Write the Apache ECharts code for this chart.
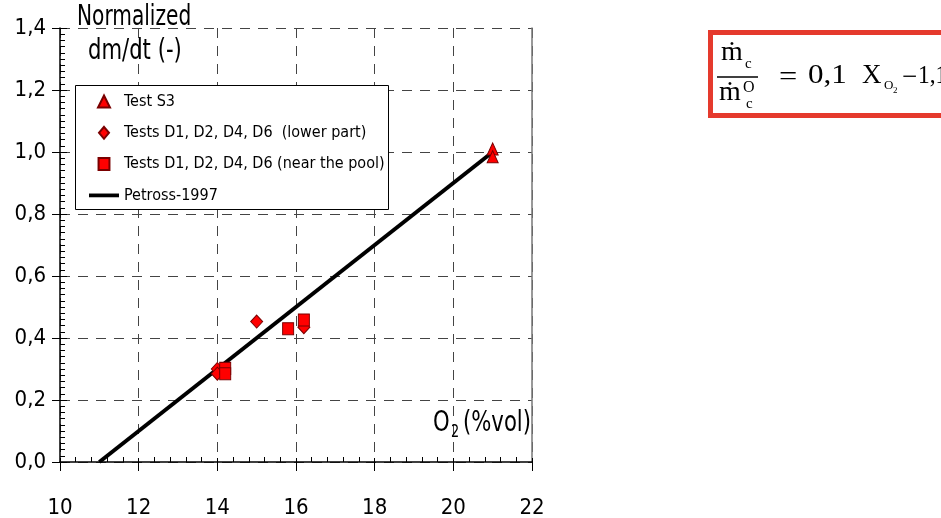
<!DOCTYPE html>
<html>
<head>
<meta charset="utf-8">
<script src="https://cdn.jsdelivr.net/npm/echarts@6/dist/echarts.min.js"></script>
<style>
  html, body { margin: 0; padding: 0; background: #fff; }
  #chart { width: 941px; height: 518px; }
</style>
</head>
<body>
<div id="chart"></div>
<script>
// values
const seriesNames = [
  'Test S3',
  'Tests D1, D2, D4, D6  (lower part)',
  'Tests D1, D2, D4, D6 (near the pool)',
  'Petross-1997'
];
const s3Points = [[21, 1.01], [21, 0.985]];
const lowerPartPoints = [[14.0, 0.300], [14.0, 0.285], [15.0, 0.453], [16.2, 0.435]];
const nearPoolPoints = [[14.2, 0.302], [14.2, 0.285], [15.8, 0.430], [16.2, 0.458]];
const petrossLine = [[11, 0], [21, 1.0]];
const xRange = [10, 22, 2];
const yRange = [0, 1.4, 0.2];

const sans = '"DejaVu Sans Condensed", "DejaVu Sans", sans-serif';
const serif = '"Liberation Serif", "DejaVu Serif", serif';
const red = '#ff0000';
const darkRed = '#7a0000';

const chart = echarts.init(document.getElementById('chart'));

const dash = { color: '#444', type: [10, 8], width: 1 };
const comma = v => v.toFixed(1).replace('.', ',');

// text pieces placed by hand (axis names, equation)
const label = (text, x, y, size, family, sx) => ({
  type: 'text', z: 5, x: x, y: y, scaleX: sx || 1,
  style: { text: text, fontSize: size, fontFamily: family, fill: '#000', verticalAlign: 'middle' }
});

const option = {
  animation: false,
  textStyle: { fontFamily: sans },
  grid: { left: 60, right: 409, top: 28, bottom: 56, outerBoundsMode: 'none' },
  xAxis: [
    {
      type: 'value', min: xRange[0], max: xRange[1], interval: xRange[2], position: 'bottom',
      axisLine: { show: true, onZero: false, lineStyle: { color: '#000', width: 1.5 } },
      axisTick: { show: true, inside: true, length: 4, lineStyle: { color: '#000' } },
      minorTick: { show: true, splitNumber: 5, length: 5, lineStyle: { color: '#000' } },
      axisLabel: { margin: 35, fontSize: 22, color: '#000', fontFamily: sans },
      splitLine: { show: true, lineStyle: dash },
      minorSplitLine: { show: false }
    },
    {
      type: 'value', min: xRange[0], max: xRange[1], interval: xRange[2], position: 'bottom',
      axisLine: { show: false },
      axisTick: { show: true, inside: false, length: 9, lineStyle: { color: '#000' } },
      axisLabel: { show: false },
      splitLine: { show: false }
    }
  ],
  yAxis: [
    {
      type: 'value', min: yRange[0], max: yRange[1], interval: yRange[2], position: 'left',
      axisLine: { show: true, onZero: false, lineStyle: { color: '#000', width: 1.5 } },
      axisTick: { show: true, inside: true, length: 7, lineStyle: { color: '#000' } },
      minorTick: { show: true, splitNumber: 10, length: 5, lineStyle: { color: '#000' } },
      axisLabel: { margin: 14, fontSize: 22, color: '#000', fontFamily: sans, formatter: comma },
      splitLine: { show: true, lineStyle: dash },
      minorSplitLine: { show: false }
    },
    {
      type: 'value', min: yRange[0], max: yRange[1], interval: yRange[2], position: 'left',
      axisLine: { show: false },
      axisTick: { show: true, inside: false, length: 8, lineStyle: { color: '#000' } },
      axisLabel: { show: false },
      splitLine: { show: false }
    },
    {
      type: 'value', min: yRange[0], max: yRange[1], interval: yRange[2], position: 'right',
      axisLine: { show: true, lineStyle: { color: '#777', width: 1.5 } },
      axisTick: { show: false },
      axisLabel: { show: false },
      splitLine: { show: false }
    }
  ],
  legend: {
    orient: 'vertical', left: 89, top: 93.5, padding: 0,
    itemWidth: 30, itemHeight: 12, itemGap: 15.3,
    selectedMode: false,
    textStyle: { fontSize: 16, color: '#000', fontFamily: sans },
    data: [
      { name: seriesNames[0], icon: 'path://M5,0 L10,10 L0,10 Z' },
      { name: seriesNames[1], icon: 'path://M5,0 L10,6 L5,12 L0,6 Z' },
      { name: seriesNames[2], icon: 'path://M0,0 L10,0 L10,11 L0,11 Z' },
      { name: seriesNames[3], icon: 'path://M0,0 L32,0 L32,4 L0,4 Z' }
    ]
  },
  graphic: {
    elements: [
      // legend box
      { type: 'rect', z: 3, shape: { x: 75.5, y: 85.5, width: 313, height: 124 },
        style: { fill: '#fff', stroke: '#000', lineWidth: 1 } },
      // axis names
      label('Normalized', 77, 18, 28, sans, 0.8),
      label('dm/dt (-)', 88, 52, 28, sans, 0.84),
      label('O', 433, 424, 28, sans, 0.84),
      label('2', 451, 433, 17, sans, 0.84),
      label('(%vol)', 463, 424, 28, sans, 0.84),
      // equation box
      { type: 'rect', z: 5, shape: { x: 710.5, y: 32.5, width: 300, height: 83 },
        style: { fill: 'none', stroke: '#e53a2d', lineWidth: 5 } },
      label('\u1E41', 721, 53, 28, serif),
      label('c', 745, 64, 15, serif),
      { type: 'line', z: 5, shape: { x1: 717, y1: 77, x2: 758, y2: 77 },
        style: { stroke: '#000', lineWidth: 1.5 } },
      label('\u1E41', 719, 93, 28, serif),
      label('O', 743, 88, 16, serif),
      label('c', 746, 104, 15, serif),
      label('=', 779, 78, 27, serif, 1.2),
      label('0,1', 808, 76, 27, serif, 1.15),
      label('X', 862, 76, 27, serif),
      label('O', 884, 86, 13, serif),
      label('2', 893, 91, 9, serif),
      label('\u2212', 902, 78, 27, serif),
      label('1,1', 918, 76, 26, serif, 0.9)
    ]
  },
  series: [
    {
      name: seriesNames[3], type: 'line', data: petrossLine, symbol: 'none', z: 2,
      lineStyle: { color: '#000', width: 4 }, itemStyle: { color: '#000' }
    },
    {
      name: seriesNames[0], type: 'scatter', data: s3Points, symbol: 'triangle', symbolSize: [11, 12], z: 3,
      itemStyle: { color: red, borderColor: darkRed, borderWidth: 1, opacity: 1 }
    },
    {
      name: seriesNames[1], type: 'scatter', data: lowerPartPoints, symbol: 'diamond', symbolSize: [12, 13], z: 3,
      itemStyle: { color: red, borderColor: darkRed, borderWidth: 1, opacity: 1 }
    },
    {
      name: seriesNames[2], type: 'scatter', data: nearPoolPoints, symbol: 'rect', symbolSize: [11, 12], z: 3,
      itemStyle: { color: red, borderColor: darkRed, borderWidth: 1, opacity: 1 }
    }
  ]
};

chart.setOption(option);
window.addEventListener('resize', () => chart.resize());
</script>
</body>
</html>
